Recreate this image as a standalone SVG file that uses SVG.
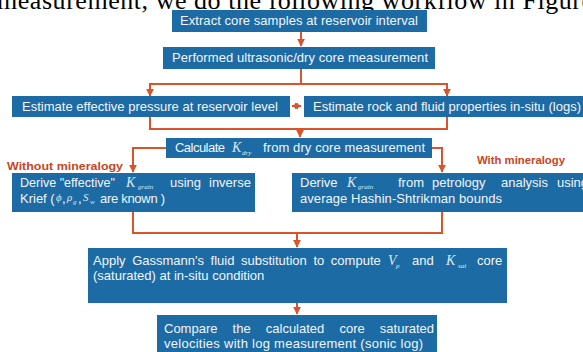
<svg xmlns="http://www.w3.org/2000/svg" width="583" height="352" viewBox="0 0 583 352">
<defs>
<marker id="ah" viewBox="0 0 10 10" refX="9" refY="5" markerWidth="8" markerHeight="8" markerUnits="userSpaceOnUse" orient="auto">
<path d="M0,0 L10,5 L0,10 Z" fill="#d9532b"/>
</marker>
<marker id="ahs" viewBox="0 0 10 10" refX="1" refY="5" markerWidth="7" markerHeight="7" markerUnits="userSpaceOnUse" orient="auto">
<path d="M10,0 L0,5 L10,10 Z" fill="#d9532b"/>
</marker>
<marker id="ahe" viewBox="0 0 10 10" refX="9" refY="5" markerWidth="7" markerHeight="7" markerUnits="userSpaceOnUse" orient="auto">
<path d="M0,0 L10,5 L0,10 Z" fill="#d9532b"/>
</marker>
</defs>
<style>
.box{fill:#1d6ba4}
.t{font-family:"Liberation Sans",Arial,sans-serif;font-size:13px;fill:#f2f6f9}
.m{font-family:"Liberation Serif","Times New Roman",serif;font-style:italic;font-size:14px;fill:#dfe8f0}
.g{font-family:"Liberation Serif","Times New Roman",serif;font-style:italic;font-size:11px;fill:#dfe8f0}
.s{font-family:"Liberation Serif","Times New Roman",serif;font-style:italic;font-size:7px;fill:#dfe8f0}
.lbl{font-family:"Liberation Sans",Arial,sans-serif;font-size:11.5px;font-weight:bold;fill:#c8461f}
.c{fill:none;stroke:#d9532b;stroke-width:2}
.hd{font-family:"Liberation Serif","Times New Roman",serif;font-size:26px;fill:#000}
</style>
<rect width="583" height="352" fill="#ffffff"/>
<text class="hd" x="-3" y="9" textLength="596" lengthAdjust="spacing">measurement, we do the following workflow in Figure</text>

<g id="connectors">
<path class="c" d="M301,32 V46" marker-end="url(#ah)"/>
<path class="c" d="M301,69 V84"/>
<path class="c" d="M150,84 H447"/>
<path class="c" d="M150,83 V96" marker-end="url(#ah)"/>
<path class="c" d="M447,83 V96" marker-end="url(#ah)"/>
<path class="c" d="M292,106 H301" stroke-width="1.5" marker-start="url(#ahs)" marker-end="url(#ahe)"/>
<path class="c" d="M150,117 V129 H447 V117"/>
<path class="c" d="M300,128 V137" marker-end="url(#ah)"/>
<path class="c" d="M166,148 H133 V172" marker-end="url(#ah)"/>
<path class="c" d="M432,148 H442 V172" marker-end="url(#ah)"/>
<path class="c" d="M133,212 V233 H442 V212"/>
<path class="c" d="M297,232 V247" marker-end="url(#ah)"/>
<path class="c" d="M297,303 V314" marker-end="url(#ah)"/>
</g>

<g id="extract">
<rect class="box" x="172" y="10" width="255" height="22"/>
<text class="t" x="180" y="25" textLength="238" lengthAdjust="spacing">Extract core samples at reservoir interval</text>
</g>
<g id="ultrasonic">
<rect class="box" x="163" y="47" width="272" height="22"/>
<text class="t" x="172" y="62" textLength="256" lengthAdjust="spacing">Performed ultrasonic/dry core measurement</text>
</g>
<g id="pressure">
<rect class="box" x="12" y="96" width="278" height="21"/>
<text class="t" x="22" y="111" textLength="256" lengthAdjust="spacing">Estimate effective pressure at reservoir level</text>
</g>
<g id="insitu">
<rect class="box" x="304" y="96" width="279" height="21"/>
<text class="t" x="313" y="111" textLength="268" lengthAdjust="spacing">Estimate rock and fluid properties in-situ (logs)</text>
</g>
<g id="kdry">
<rect class="box" x="166" y="138" width="266" height="20"/>
<text class="t" x="175" y="152" textLength="50" lengthAdjust="spacing">Calculate</text>
<text class="m" x="232" y="152">K</text><text class="s" x="242" y="155">dry</text>
<text class="t" x="263" y="152" textLength="162" lengthAdjust="spacing">from dry core measurement</text>
</g>

<text class="lbl" x="7" y="170" textLength="116" lengthAdjust="spacingAndGlyphs">Without mineralogy</text>
<text class="lbl" x="477" y="164" textLength="88" lengthAdjust="spacingAndGlyphs">With mineralogy</text>

<g id="without">
<rect class="box" x="12" y="173" width="243" height="39"/>
<text class="t" x="20" y="187" textLength="95" lengthAdjust="spacingAndGlyphs">Derive "effective"</text>
<text class="m" x="126" y="187">K</text><text class="s" x="138" y="189">grain</text>
<text class="t" x="170" y="187">using</text>
<text class="t" x="209" y="187">inverse</text>
<text class="t" x="20" y="203">Krief (</text>
<text class="g" x="56" y="201">ϕ</text><text class="t" x="62" y="203">,</text>
<text class="g" x="67" y="201">ρ</text><text class="s" x="73" y="204">g</text><text class="t" x="78" y="203">,</text>
<text class="g" x="83" y="201">S</text><text class="s" x="90" y="204">w</text>
<text class="t" x="100" y="203" textLength="65" lengthAdjust="spacing">are known )</text>
</g>
<g id="with">
<rect class="box" x="292" y="173" width="291" height="39"/>
<text class="t" x="300" y="187">Derive</text>
<text class="m" x="347" y="187">K</text><text class="s" x="358" y="189">grain</text>
<text class="t" x="398" y="187">from</text>
<text class="t" x="432" y="187">petrology</text>
<text class="t" x="501" y="187">analysis</text>
<text class="t" x="557" y="187">using</text>
<text class="t" x="300" y="203" textLength="202" lengthAdjust="spacing">average Hashin-Shtrikman bounds</text>
</g>
<g id="gassmann">
<rect class="box" x="88" y="248" width="419" height="55"/>
<text class="t" x="93" y="265" word-spacing="3">Apply Gassmann's fluid substitution to compute</text>
<text class="m" x="388" y="265">V</text><text class="s" x="396" y="268">p</text>
<text class="t" x="412" y="265">and</text>
<text class="m" x="446" y="265">K</text><text class="s" x="458" y="268">sat</text>
<text class="t" x="477" y="265">core</text>
<text class="t" x="93" y="280">(saturated) at in-situ condition</text>
</g>
<g id="compare">
<rect class="box" x="157" y="315" width="280" height="37"/>
<text class="t" x="164" y="333" word-spacing="11.5">Compare the calculated core saturated</text>
<text class="t" x="164" y="348" textLength="259" lengthAdjust="spacing">velocities with log measurement  (sonic log)</text>
</g>
</svg>
